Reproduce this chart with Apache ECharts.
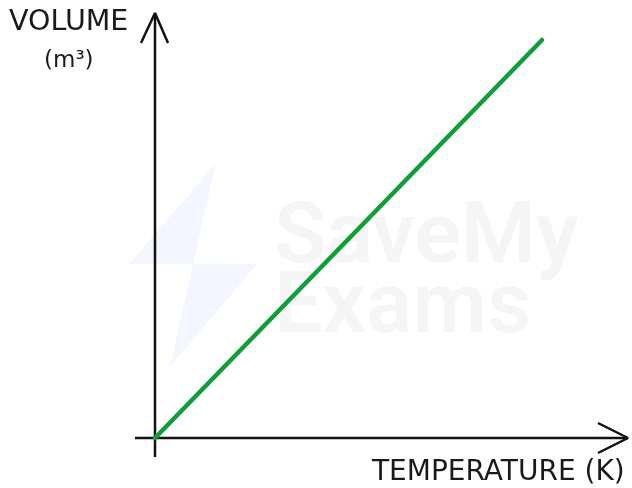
<!DOCTYPE html>
<html>
<head>
<meta charset="utf-8">
<script src="https://cdn.jsdelivr.net/npm/echarts@6/dist/echarts.min.js"></script>
<style>html,body{margin:0;padding:0;background:#fff;}#c{width:632px;height:488px;}</style>
</head>
<body>
<div id="c"></div>
<script>
// Data (arbitrary units)
const temperature = [0, 387];
const volume = [0, 398];
const xLabel = 'TEMPERATURE (K)';
const yLabel = 'VOLUME';
const yUnit = '(m\u00B3)';

// axis extents (data units)
const xMin = -20, xMax = 473, yMin = -19, yMax = 425;

const chart = echarts.init(document.getElementById('c'), null, {renderer: 'canvas'});
const axisStyle = {color: '#111', width: 2.5};
const mkLine = (pts, style, z) => ({
  type: 'line', data: pts, symbol: 'none', silent: true, z: z,
  lineStyle: style, animation: false
});
chart.setOption({
  animation: false,
  grid: {left: 135, right: 4, top: 13, bottom: 31},
  xAxis: {type: 'value', min: xMin, max: xMax, show: false},
  yAxis: {type: 'value', min: yMin, max: yMax, show: false},
  graphic: [
    {type: 'polygon', z: -10, shape: {points: [[216,163],[129,264],[193,264]]}, style: {fill: '#f3f6fe'}},
    {type: 'polygon', z: -10, shape: {points: [[193,264],[257,264],[170,367]]}, style: {fill: '#f3f6fe'}},
    {type: 'text', z: -10, left: 274, top: 197, style: {text: 'SaveMy', font: '600 86px Roboto', fill: '#f5f5f5'}},
    {type: 'text', z: -10, left: 274, top: 267, style: {text: 'Exams', font: '600 86px Roboto', fill: '#f5f5f5'}},
    {type: 'text', left: 9, top: 8, style: {text: yLabel, font: '28.5px "DejaVu Sans"', fill: '#1a1a1a'}},
    {type: 'text', left: 44, top: 50, style: {text: yUnit, font: '23px "DejaVu Sans"', fill: '#1a1a1a'}},
    {type: 'text', left: 372, top: 459, style: {text: xLabel, font: '28px "DejaVu Sans"', fill: '#1a1a1a'}}
  ],
  series: [
    mkLine([[xMin, 0], [xMax, 0]], axisStyle, 2),
    mkLine([[xMax - 30, 15], [xMax, 0], [xMax - 30, -15]], axisStyle, 2),
    mkLine([[0, yMin], [0, yMax]], axisStyle, 2),
    mkLine([[-14, yMax - 30], [0, yMax], [13, yMax - 30]], axisStyle, 2),
    {
      type: 'line', name: 'Volume', symbol: 'none', z: 3,
      data: temperature.map((t, i) => [t, volume[i]]),
      lineStyle: {color: '#0f9e3a', width: 4.5, cap: 'round'}
    }
  ]
});
</script>
</body>
</html>
